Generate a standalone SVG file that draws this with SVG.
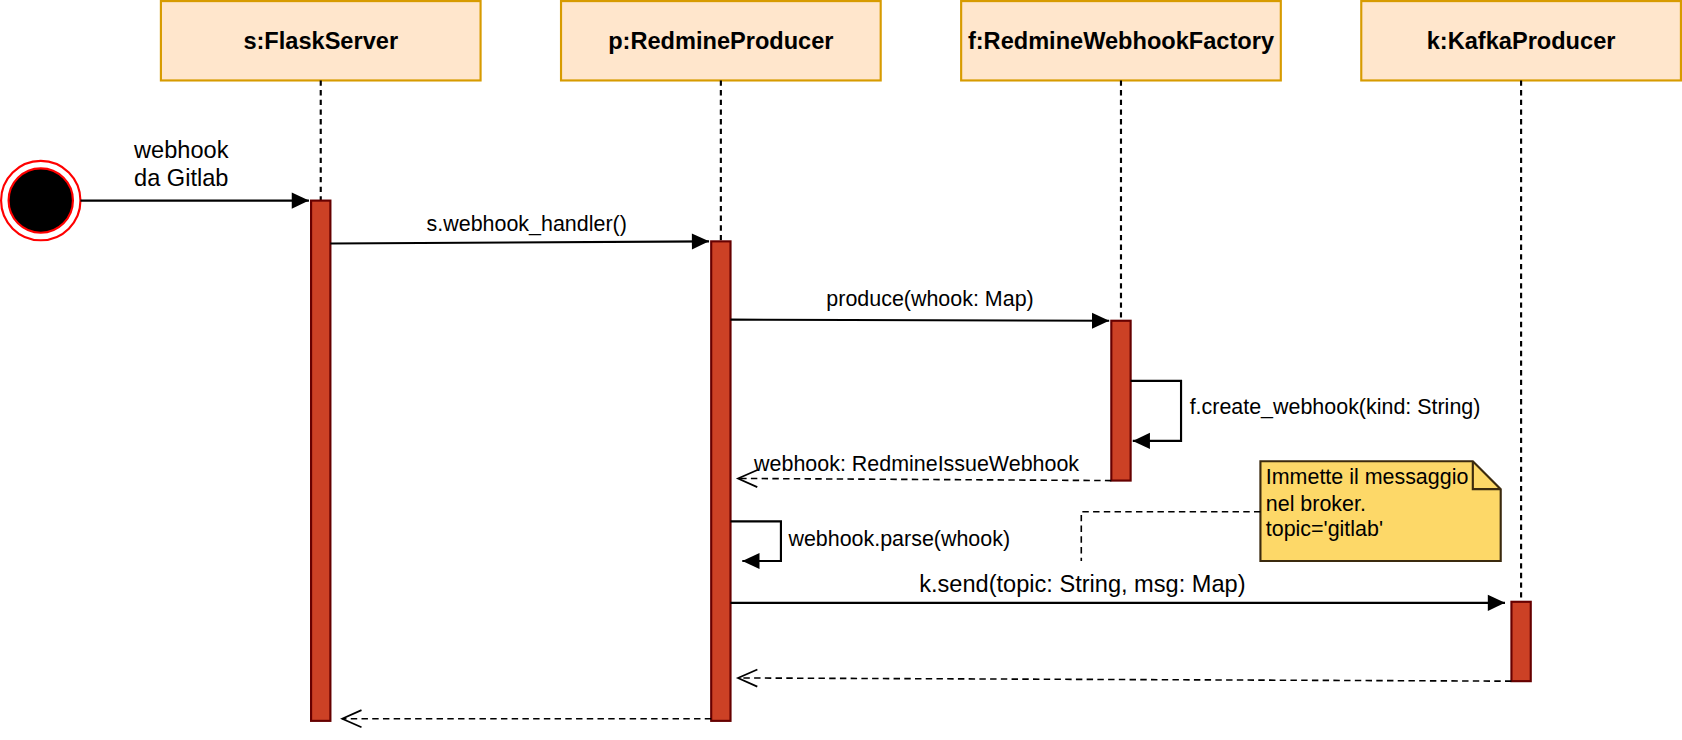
<svg xmlns="http://www.w3.org/2000/svg" width="1682" height="740" viewBox="0 0 1682 740">
<style>
.hdr{fill:#ffe6cc;stroke:#d79b00;stroke-width:2}
.hdrt{font-family:"Liberation Sans",Arial,sans-serif;font-weight:bold;font-size:22px;text-anchor:middle;fill:#000}
.life{stroke:#000;stroke-width:2;stroke-dasharray:5,4;fill:none}
.act{fill:#cc4125;stroke:#660000;stroke-width:2}
.msg{stroke:#000;stroke-width:2;fill:none}
.ret{stroke:#000;stroke-width:1.5;stroke-dasharray:6,4;fill:none}
.lbl{font-family:"Liberation Sans",Arial,sans-serif;font-size:20px;fill:#000}
.big{font-size:22px}
</style>
<defs>
<marker id="fill" markerUnits="userSpaceOnUse" markerWidth="17" markerHeight="16" refX="16" refY="7.5" orient="auto" overflow="visible">
<path d="M0,0 L16,7.5 L0,15 z" fill="#000"/>
</marker>
<marker id="open" markerUnits="userSpaceOnUse" markerWidth="19" markerHeight="17" refX="18" refY="8" orient="auto" overflow="visible">
<path d="M0,0 L18,8 L0,16" fill="none" stroke="#000" stroke-width="1.6"/>
</marker>
</defs>
<g id="diagram" transform="scale(1.072704)">
<g id="node-s">
<rect class="hdr" x="150" y="1" width="298" height="74"/>
<text class="hdrt" x="299" y="46">s:FlaskServer</text>
<line class="life" x1="299" y1="75" x2="299" y2="187"/>
<rect class="act" x="290" y="187" width="18" height="485"/>
</g>
<g id="node-p">
<rect class="hdr" x="523" y="1" width="298" height="74"/>
<text class="hdrt" x="672" y="46">p:RedmineProducer</text>
<line class="life" x1="672" y1="75" x2="672" y2="225"/>
<rect class="act" x="663" y="225" width="18" height="447"/>
</g>
<g id="node-f">
<rect class="hdr" x="896" y="1" width="298" height="74"/>
<text class="hdrt" x="1045" y="46">f:RedmineWebhookFactory</text>
<line class="life" x1="1045" y1="75" x2="1045" y2="299"/>
<rect class="act" x="1036" y="299" width="18" height="149"/>
</g>
<g id="node-k">
<rect class="hdr" x="1269" y="1" width="298" height="74"/>
<text class="hdrt" x="1418" y="46">k:KafkaProducer</text>
<line class="life" x1="1418" y1="75" x2="1418" y2="561"/>
<rect class="act" x="1409" y="561" width="18" height="74"/>
</g>
<g id="node-start">
<circle cx="38" cy="187" r="37" fill="#fff" stroke="#ff0000" stroke-width="2"/>
<circle cx="38" cy="187" r="30" fill="#000" stroke="#ff0000" stroke-width="2"/>
</g>
<g id="node-note">
<path d="M1175,430 L1373,430 L1399,456 L1399,523 L1175,523 Z" fill="#fdd868" stroke="#3b2a0e" stroke-width="2"/>
<path d="M1373,430 L1373,456 L1399,456" fill="none" stroke="#3b2a0e" stroke-width="2"/>
<text class="lbl" x="1180" y="451">Immette il messaggio</text>
<text class="lbl" x="1180" y="476">nel broker.</text>
<text class="lbl" x="1180" y="500">topic='gitlab'</text>
</g>

<g id="connectors">
<line class="msg" x1="75" y1="187" x2="288" y2="187" marker-end="url(#fill)"/>
<text class="lbl big" x="125" y="147">webhook</text>
<text class="lbl big" x="125" y="173">da Gitlab</text>

<line class="msg" x1="308" y1="227" x2="661" y2="225" marker-end="url(#fill)"/>
<text class="lbl" x="491" y="215" text-anchor="middle">s.webhook_handler()</text>

<line class="msg" x1="681" y1="298" x2="1034" y2="299" marker-end="url(#fill)"/>
<text class="lbl" x="867" y="285" text-anchor="middle">produce(whook: Map)</text>

<path class="msg" d="M1054,355 L1101,355 L1101,411 L1056,411" marker-end="url(#fill)"/>
<text class="lbl" x="1109" y="386">f.create_webhook(kind: String)</text>

<line class="ret" x1="1036" y1="448" x2="688" y2="446" marker-end="url(#open)"/>
<text class="lbl" x="703" y="439">webhook: RedmineIssueWebhook</text>

<path class="msg" d="M681,486 L728,486 L728,523 L692,523" marker-end="url(#fill)"/>
<text class="lbl" x="735" y="509">webhook.parse(whook)</text>

<path class="ret" d="M1175,477 L1008,477 L1008,523"/>

<line class="msg" x1="681" y1="562" x2="1403" y2="562" marker-end="url(#fill)"/>
<text class="lbl big" x="1009" y="552" text-anchor="middle">k.send(topic: String, msg: Map)</text>

<line class="ret" x1="1409" y1="635" x2="688" y2="632" marker-end="url(#open)"/>
<line class="ret" x1="663" y1="670" x2="319" y2="670" marker-end="url(#open)"/>
</g>
</g>
</svg>
